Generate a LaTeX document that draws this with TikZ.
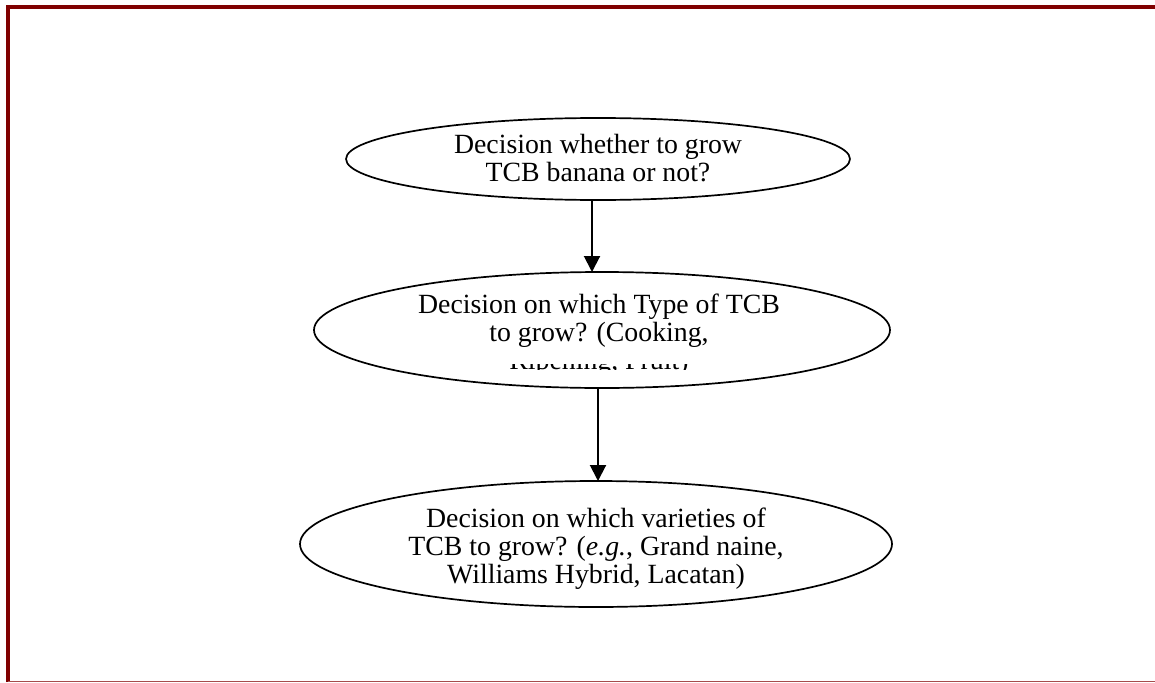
\documentclass[tikz,border=0pt]{standalone}
\usepackage{fontspec}
\setmainfont{Liberation Serif}
\usetikzlibrary{shapes.geometric,arrows.meta}
\definecolor{framered}{RGB}{128,0,0}
\tikzset{
  decision/.style={draw=black, ellipse, line width=1.7pt, inner sep=0pt, outer sep=0pt},
  label text/.style={align=center, inner sep=0pt, font=\fontsize{27.8}{28}\selectfont},
  flow/.style={line width=2pt, -{Triangle[length=16pt,width=16pt]}},
}
\begin{document}
\begin{tikzpicture}[x=1pt,y=-1pt]
  \useasboundingbox (0,0) rectangle (1155,682);
  % page frame
  \draw[framered, line width=4pt] (8,682) -- (8,7) -- (1155,7);
  \draw[framered!70, line width=1pt] (8,681) -- (1155,681);

  % decision ellipses
  \node[decision, minimum width=504pt, minimum height=82pt] (e1) at (598,159) {};
  \node[decision, minimum width=576pt, minimum height=116pt] (e2) at (602,330) {};
  \node[decision, minimum width=592pt, minimum height=126pt] (e3) at (596,544) {};

  % labels
  \node[label text] (t1) at (598,158) {Decision whether to grow\\TCB banana or not?};
  \begin{scope}
    % the overflowing last line shows only as a thin strip
    \clip (330,280) rectangle (880,347.5) (330,364) rectangle (880,369);
    \node[label text] (t2) at (599,335) {Decision on which Type of TCB\\to grow? (Cooking,\\Ripening, Fruit)};
  \end{scope}
  \node[label text] (t3) at (596,549) {Decision on which varieties of\\TCB to grow? (\textit{e.g.}, Grand naine,\\Williams Hybrid, Lacatan)};

  % connectors
  \draw[flow] ([xshift=-6pt]e1.south) -- ([xshift=-6pt]e1.south |- e2.north);
  \draw[flow] ([xshift=-4pt]e2.south) -- ([xshift=-4pt]e2.south |- e3.north);
\end{tikzpicture}
\end{document}
